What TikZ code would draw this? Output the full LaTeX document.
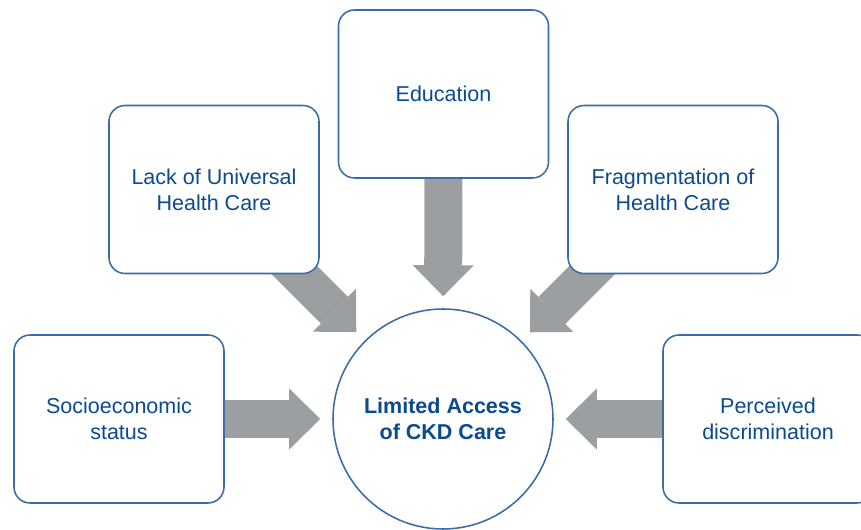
\documentclass[tikz,border=0pt]{standalone}
\usepackage{fontspec}
\setmainfont{Liberation Sans}
\usetikzlibrary{arrows.meta,backgrounds}
\definecolor{boxblue}{HTML}{3B6CA7}
\definecolor{textblue}{HTML}{0C4A90}
\definecolor{arrowgray}{HTML}{9C9FA2}
\tikzset{factor/.style={draw=boxblue, line width=1.1pt, fill=white, rounded corners=0.4cm,
minimum width=5.25cm, minimum height=4.2cm, align=center, text=textblue,
font=\fontsize{15.3}{18.5}\selectfont}}
\tikzset{hub/.style={circle, draw=boxblue, line width=1.1pt, fill=white, minimum size=5.5cm,
align=center, text=textblue, font=\fontsize{15.3}{18.5}\selectfont\bfseries}}
\tikzset{fat/.style={arrowgray, line width=0.95cm, shorten >=0.3cm,
-{Triangle[length=0.775cm, width=1.525cm, line width=0pt]}}}

\begin{document}
\begin{tikzpicture}
				\useasboundingbox (0,0) rectangle (21.525,13.25);
				\node[hub] (hub) at (11.075,2.775) {Limited Access\\of CKD Care};
				\node[factor] (socio) at (2.975,2.775) {Socioeconomic\\status};
				\node[factor] (lack) at (5.35,8.5125) {Lack of Universal\\Health Care};
				\node[factor] (edu) at (11.0875,10.9) {Education};
				\node[factor] (frag) at (16.825,8.5125) {Fragmentation of\\Health Care};
				\node[factor] (perc) at (19.2,2.775) {Perceived\\discrimination};
				\begin{scope}[on background layer]
				\draw[fat] (socio.center) -- (hub);
				\draw[fat] (lack.center) -- (hub);
				\draw[fat] (edu.center) -- (hub);
				\draw[fat] (frag.center) -- (hub);
				\draw[fat] (perc.center) -- (hub);
				\end{scope}
			\end{tikzpicture}
\end{document}
